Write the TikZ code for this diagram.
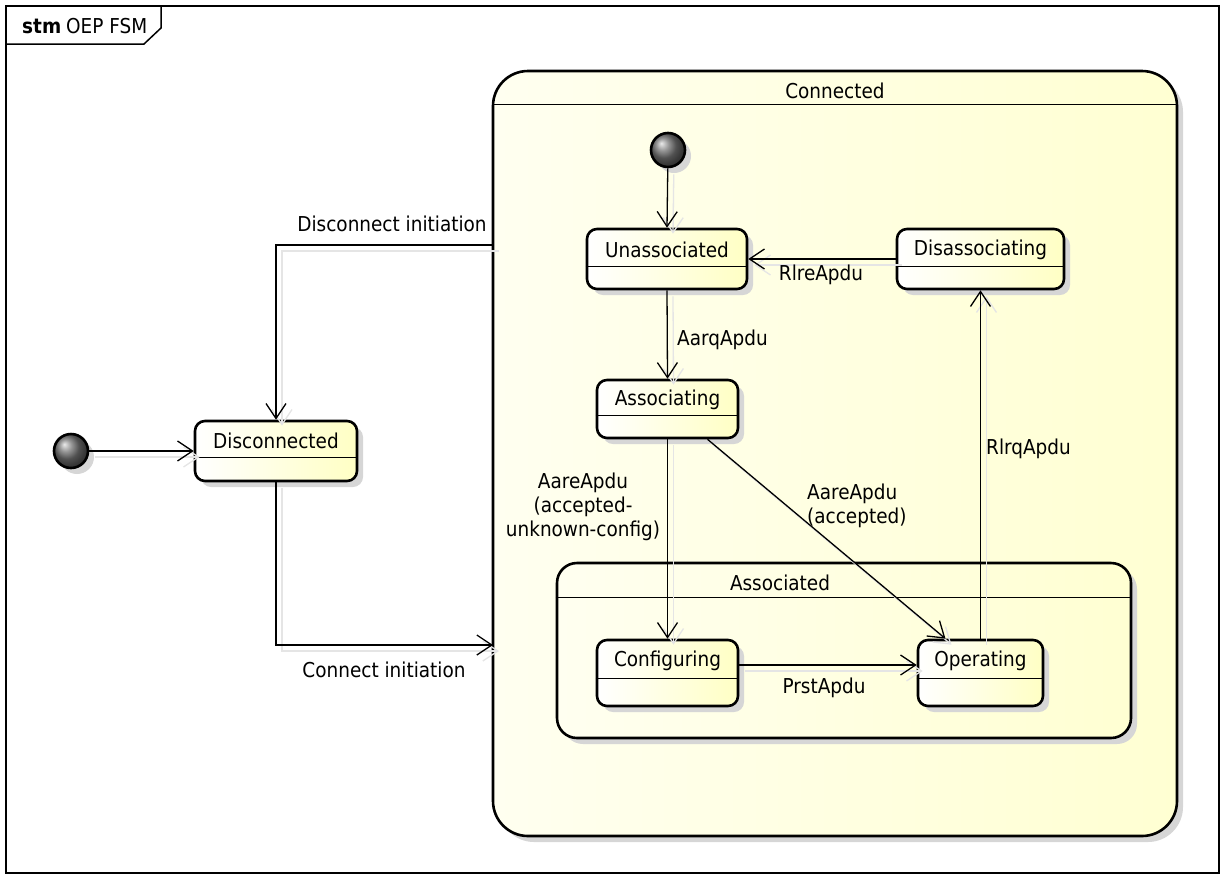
\documentclass[tikz,border=0pt]{standalone}
\usepackage{fontspec}
\setmainfont{DejaVu Sans Condensed}
\usetikzlibrary{arrows.meta,shadows,calc}

\definecolor{stateyellow}{RGB}{255,255,196}
\definecolor{paleA}{RGB}{255,255,240}
\definecolor{paleB}{RGB}{255,255,210}
\definecolor{shadowgray}{RGB}{214,214,214}

\tikzset{
  lbl/.style={font=\fontsize{20.5}{24}\selectfont, inner sep=0pt},
  softshadow/.style={drop shadow={shadow xshift=6pt, shadow yshift=-6pt, fill=shadowgray, opacity=1}},
  statebox/.style={rectangle, rounded corners=10pt, draw=black, line width=2.6pt,
    left color=white, right color=stateyellow, inner sep=0pt, softshadow},
  compbox/.style={rectangle, draw=black, line width=2.6pt,
    left color=paleA, right color=paleB, inner sep=0pt, softshadow},
  divider/.style={draw=black, line width=1.4pt},
  initstate/.style={circle, minimum size=34pt, inner sep=0pt, draw=black,
    line width=2.6pt, ball color=black!55, softshadow},
  trans/.style={draw=black, line width=1.3pt, -{Straight Barb[length=15pt,width=20pt]},
    preaction={draw=black!10, line width=1.3pt, transform canvas={shift={(6pt,-6pt)}}}},
}

% name, centre x, centre y, width, height, title, divider offset from the top
\newcommand\umlstate[7]{%
  \node[statebox, minimum width=#4pt, minimum height=#5pt] (#1) at (#2,#3) {};
  \node[lbl] at ($(#1.north)+(0,#7/2+2.5)$) {#6};
  \draw[divider] ($(#1.north west)+(0,#7)$) -- ($(#1.north east)+(0,#7)$);
}

\begin{document}
\begin{tikzpicture}[x=1pt,y=-1pt]
\useasboundingbox (0,0) rectangle (1225,876);

% diagram frame and its tab
\draw[line width=1.2pt] (6,6) rectangle (1219,873);
\draw[line width=1.5pt] (6,44) -- (144,44) -- (161,28) -- (161,6);
\node[lbl, anchor=west] (frametitle) at (22,26) {\textbf{stm}\hspace{5pt}OEP FSM};

% composite state Connected
\node[compbox, rounded corners=35pt, minimum width=684pt, minimum height=765pt] (conn) at (835,453.5) {};
\node[lbl] (conntitle) at ($(conn.north)+(0,21)$) {Connected};
\draw[divider] ($(conn.north west)+(0,35)$) -- ($(conn.north east)+(0,35)$);

% composite state Associated
\node[compbox, rounded corners=20pt, minimum width=574pt, minimum height=175pt] (assd) at (844,650.5) {};
\node[lbl] (assdtitle) at (780,583) {Associated};
\draw[divider] ($(assd.north west)+(0,36)$) -- ($(assd.north east)+(0,36)$);

% initial pseudostates
\node[initstate] (init0) at (71,451) {};
\node[initstate] (init1) at (668,150) {};

% simple states
\umlstate{disc}{276}{451}{162}{60}{Disconnected}{38}
\umlstate{unas}{667}{259}{160}{60}{Unassociated}{39}
\umlstate{disas}{980.5}{259}{167}{60}{Disassociating}{39}
\umlstate{asso}{667.5}{409}{141}{58}{Associating}{37}
\umlstate{conf}{667.5}{673}{141}{66}{Configuring}{40}
\umlstate{oper}{980.5}{673}{125}{66}{Operating}{40}

% end points on the border of Connected
\coordinate (dstart) at (493,245);
\coordinate (cend) at (493,645);

% transitions
\draw[trans] (init0) -- (disc.west);
\draw[trans] (dstart) -| (disc.north);
\node[lbl] (dlabel) at (392,224) {Disconnect initiation};
\draw[trans] (disc.south) |- (cend);
\node[lbl] (clabel) at (384,670) {Connect initiation};

\draw[trans] (init1) -- (unas.north);
\draw[trans] (disas.west) -- (unas.east);
\node[lbl] (rlre) at (821,275) {RlreApdu};
\draw[trans] (unas.south) -- (asso.north);
\node[lbl, anchor=west] (aarq) at (677,340) {AarqApdu};
\draw[trans] (asso.south) -- (conf.north);
\node[lbl, align=center] (aare1) at (583,507) {AareApdu\\(accepted-\\unknown-config)};
\draw[trans] ($(asso.south)+(40,0)$) -- ($(oper.north)+(-35,0)$);
\node[lbl, anchor=west, align=left] (aare2) at (807,506) {AareApdu\\(accepted)};
\draw[trans] ($(conf.east)+(0,-8)$) -- ($(oper.west)+(0,-8)$);
\node[lbl] (prst) at (824,688) {PrstApdu};
\draw[trans] (oper.north) -- (disas.south);
\node[lbl, anchor=west] (rlrq) at (986,449) {RlrqApdu};
\end{tikzpicture}
\end{document}
